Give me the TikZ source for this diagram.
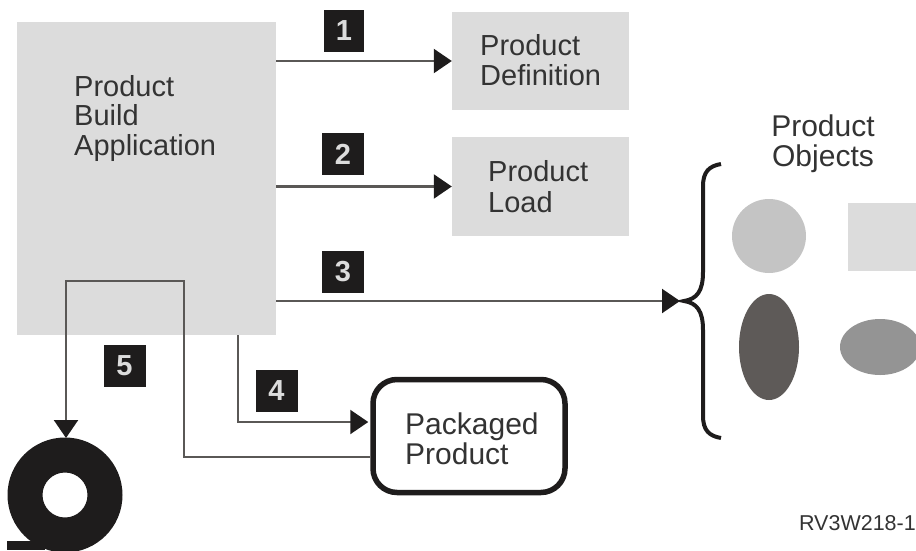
\documentclass[tikz,border=0pt]{standalone}
\usepackage{fontspec}
\setmainfont{Liberation Sans}
\usetikzlibrary{arrows.meta,calc}
\definecolor{boxgray}{HTML}{DCDCDC}
\definecolor{linegray}{HTML}{5A5856}
\definecolor{inkdark}{HTML}{1E1C1C}
\definecolor{labelink}{HTML}{333333}
\definecolor{darkoval}{HTML}{5E5A58}
\tikzset{
  panel/.style={fill=boxgray,draw=none,minimum width=#1,inner sep=0pt},
  lbl/.style={text=labelink,align=left,inner sep=0pt,font=\fontsize{29}{29.5}\selectfont},
  badge/.style={fill=inkdark,text=boxgray,inner sep=0pt,minimum width=42pt,minimum height=42pt,font=\fontsize{29}{29}\selectfont\bfseries},
  conn/.style={draw=linegray,line width=2.2pt},
  arr/.style={conn,-{Triangle[length=18pt,width=24pt,fill=inkdark,color=inkdark]}},
}
\begin{document}
\begin{tikzpicture}[x=1pt,y=-1pt]
\useasboundingbox (0,0) rectangle (916,550);
% boxes
\node[panel=259pt,minimum height=313pt] (main) at (146.5,178.5) {};
\node[panel=177pt,minimum height=98pt] (def) at (540.5,61) {};
\node[panel=177pt,minimum height=99pt] (load) at (540.5,186.5) {};
\node[draw=inkdark,line width=5.5pt,rounded corners=24pt,minimum width=192pt,minimum height=113pt,inner sep=0pt,fill=white] (pack) at (469,436) {};
% texts
\node[lbl,anchor=west] (mainT) at (74,118) {Product\\Build\\Application};
\node[lbl,anchor=west] (defT) at (480,60) {Product\\Definition};
\node[lbl,anchor=west,font=\fontsize{29}{31}\selectfont] (loadT) at (488,187) {Product\\Load};
\node[lbl,anchor=west,font=\fontsize{30}{29.5}\selectfont] (packT) at (405,439) {Packaged\\Product};
\node[lbl,align=center,font=\fontsize{30}{30}\selectfont] (objT) at (823,143.5) {Product\\Objects};
\node[text=labelink,inner sep=0pt,anchor=east,font=\fontsize{21.5}{22}\selectfont] (fig) at (916,523) {RV3W218-1};
% objects
\node[circle,fill=black!23,minimum size=74pt,inner sep=0pt] (ocirc) at (769,236) {};
\node[fill=boxgray,minimum size=68pt,inner sep=0pt] (osq) at (882,237) {};
\fill[fill=darkoval] (769,347) ellipse [x radius=30,y radius=53];
\fill[fill=black!42] (880,347) ellipse [x radius=40,y radius=28];
% brace
\coordinate (brtip) at (684,301);
\draw[inkdark,line width=4pt] (721,164) .. controls (709,166) and (703,172) .. (703,186)
  -- (703,272) .. controls (703,291) and (697,299) .. (brtip)
  .. controls (697,303) and (703,311) .. (703,330)
  -- (703,416) .. controls (703,430) and (709,436) .. (721,438);
% tape
\coordinate (tapetop) at (66,438);
\fill[inkdark] (7,541) rectangle (45,550);
\begin{scope}
\clip (0,0) rectangle (916,550);
\fill[inkdark,even odd rule] (65,495) circle (57.5) (65,495) circle (22.5);
\end{scope}
% connectors
\draw[arr] (def.west -| main.east) -- (def.west);
\draw[arr] (load.west -| main.east) -- (load.west);
\coordinate (a3s) at (main.east |- brtip);
\coordinate (a3e) at ($(brtip)+(-4,0)$);
\draw[arr] (a3s) -- (a3e);
\coordinate (a4s) at (238,335);
\coordinate (a4e) at (pack.west |- 0,422);
\draw[arr] (a4s) |- ($(a4e)+(-2,0)$);
\coordinate (a5s) at (pack.west |- 0,457);
\coordinate (a5a) at (184,457);
\coordinate (a5b) at (184,281);
\coordinate (a5c) at (66,281);
\draw[arr,line join=miter] (a5s) -- (a5a) -- (a5b) -- (a5c) -- (tapetop);
% badges
\node[badge,minimum width=40pt] (b1) at (344,31) {1};
\node[badge] (b2) at (343,154) {2};
\node[badge] (b3) at (343,271.5) {3};
\node[badge] (b4) at (276.5,390.5) {4};
\node[badge] (b5) at (124.5,365.5) {5};
\end{tikzpicture}
\end{document}
